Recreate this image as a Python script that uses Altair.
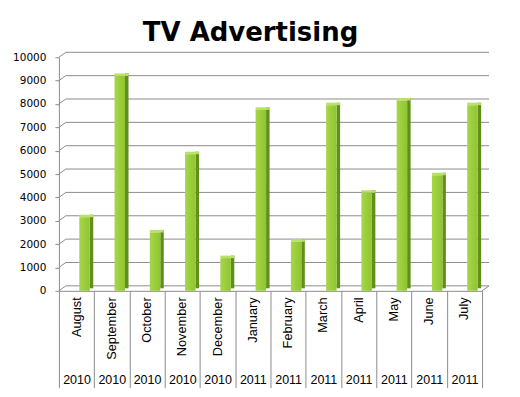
import altair as alt
import pandas as pd

# ---- data ----
months = ["August", "September", "October", "November", "December", "January",
          "February", "March", "April", "May", "June", "July"]
years = ["2010", "2010", "2010", "2010", "2010", "2011",
         "2011", "2011", "2011", "2011", "2011", "2011"]
values = [3150, 9200, 2500, 5850, 1400, 7750, 2100, 7950, 4200, 8150, 4950, 7950]
y_ticks = [0, 1000, 2000, 3000, 4000, 5000, 6000, 7000, 8000, 9000, 10000]

keys = [f"{m}|{y}" for m, y in zip(months, years)]
df = pd.DataFrame({"key": keys, "value": values})
grid_df = pd.DataFrame({"v": y_ticks})
floor_df = pd.DataFrame({"v": [0]})

# ---- layout / style constants ----
W, H = 424, 234
DX, DY = 7, 5          # depth of the 3-D walls (px)
BX, BY = 3.5, 2.5      # depth of each bar (px)
BAR_W = 10.5
BAR_SHIFT = 8
GRID = "#8C8C8C"
LBL_FONT = "Liberation Sans"

xscale = alt.Scale(domain=keys, paddingInner=0, paddingOuter=0)
yscale = alt.Scale(domain=[0, 10000], nice=False, zero=True)

y_axis = alt.Axis(title=None, values=y_ticks, format="d", grid=False, domain=True,
                  domainColor=GRID, ticks=True, tickSize=4, tickColor=GRID,
                  labelPadding=9, labelFont="DejaVu Sans", labelFontSize=10.5,
                  labelColor="#000000")

month_axis = alt.Axis(title=None, orient="bottom", labelExpr="split(datum.value,'|')[0]",
                      labelAngle=-90, labelAlign="right", labelBaseline="middle",
                      labelPadding=6, ticks=False, domain=True, domainColor=GRID,
                      grid=False, labelFont=LBL_FONT, labelFontSize=12.8,
                      labelColor="#000000")

year_axis = alt.Axis(title=None, orient="bottom", labelExpr="split(datum.value,'|')[1]",
                     labelAngle=0, labelAlign="center", labelBaseline="middle",
                     labelPadding=-8, ticks=True, tickSize=97, tickBand="extent",
                     tickColor=GRID, domain=False, grid=False, labelFont=LBL_FONT,
                     labelFontSize=12.5, labelColor="#000000")

Y = lambda f: alt.Y(f, scale=yscale, axis=y_axis)

# left wall diagonals
diag = alt.Chart(grid_df).mark_rule(color=GRID, y2Offset=-DY).encode(
    x=alt.value(0), x2=alt.value(DX),
    y=Y("v:Q"), y2=alt.Y2("v"))

# back wall gridlines
back = alt.Chart(grid_df).mark_rule(color=GRID, yOffset=-DY).encode(
    x=alt.value(DX), x2=alt.value(W + DX),
    y=Y("v:Q"))

# right floor diagonal
floor_r = alt.Chart(floor_df).mark_rule(color=GRID, y2Offset=-DY).encode(
    x=alt.value(W), x2=alt.value(W + DX),
    y=Y("v:Q"), y2=alt.Y2("v"))

side = alt.Chart(df).mark_bar(width=BX, xOffset=BAR_SHIFT + BAR_W / 2 + BX / 2,
                              yOffset=-BY, y2Offset=-BY, color="#628E1C").encode(
    x=alt.X("key:N", scale=xscale, sort=keys, axis=year_axis),
    y=Y("value:Q"))

top = alt.Chart(df).mark_bar(width=BAR_W + BX, xOffset=BAR_SHIFT + BX / 2,
                             yOffset=-BY, y2Offset=0, color="#B9E16A").encode(
    x=alt.X("key:N", scale=xscale, sort=keys, axis=None),
    y=Y("value:Q"), y2=alt.Y2("value"))

front_fill = alt.Gradient(gradient="linear", x1=0, x2=1, y1=0, y2=0,
                          stops=[alt.GradientStop(offset=0, color="#A6D748"),
                                 alt.GradientStop(offset=1, color="#8FC432")])

front = alt.Chart(df).mark_bar(width=BAR_W, xOffset=BAR_SHIFT, color=front_fill).encode(
    x=alt.X("key:N", scale=xscale, sort=keys, axis=month_axis),
    y=Y("value:Q"))

chart = alt.layer(diag, back, floor_r, side, top, front).resolve_axis(
    x="independent"
).properties(
    width=W, height=H,
    title=alt.Title("TV Advertising", font="DejaVu Sans", fontSize=26,
                    fontWeight="bold", color="#000000", anchor="middle",
                    dx=-20, offset=6),
    autosize=alt.AutoSizeParams(type="none"),
    padding={"left": 51, "top": 49, "right": 30, "bottom": 100},
).configure_view(stroke=None)

chart.save("out.html", embed_options={"renderer": "svg", "actions": False})
